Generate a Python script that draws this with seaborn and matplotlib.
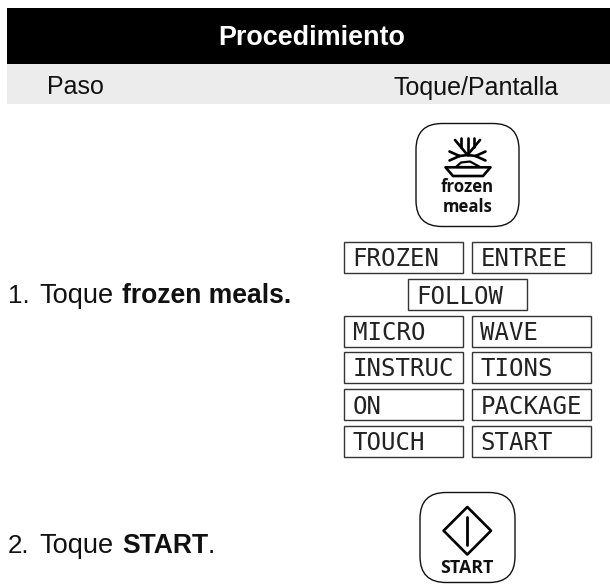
import matplotlib
matplotlib.use("Agg")
import matplotlib.pyplot as plt
from matplotlib.patches import FancyBboxPatch, Rectangle, Polygon
import seaborn as sns

sns.set_theme(style="white")
plt.rcParams['font.family'] = ['Liberation Sans', 'DejaVu Sans']

title = "Procedimiento"
col_headers = ["Paso", "Toque/Pantalla"]
step_numbers = ["1.", "2."]
step_verb = ["Toque", "Toque"]
step_keys = ["frozen meals.", "START"]
step_tail = ["", "."]
display_left = ["FROZEN", "MICRO", "INSTRUC", "ON", "TOUCH"]
display_right = ["ENTREE", "WAVE", "TIONS", "PACKAGE", "START"]
display_row_top = [242, 316, 352, 389, 426]
display_center = "FOLLOW"

W, H = 610, 584
fig = plt.figure(figsize=(W/100, H/100), dpi=100)
ax = fig.add_axes([0, 0, 1, 1])
ax.set_xlim(0, W)
ax.set_ylim(H, 0)
ax.axis("off")

def px(p):
    return p * 0.72

INK = "#111111"
# header bands
ax.add_patch(Rectangle((7, 8), 603, 55.5, fc="black", ec="none"))
ax.add_patch(Rectangle((7, 63.5), 603, 40, fc="#ececec", ec="none"))
ax.text(311.5, 45, title, color="white", fontsize=px(27), fontweight="bold", ha="center", va="baseline")
ax.text(47, 94.5, col_headers[0], color=INK, fontsize=px(25), ha="left", va="baseline")
ax.text(476, 94.5, col_headers[1], color=INK, fontsize=px(25), ha="center", va="baseline")

# steps
for num, verb, key, tail, base, tx in zip(step_numbers, step_verb, step_keys, step_tail,
                                          [303, 553], [0, 208]):
    ax.text(8, base, num, color=INK, fontsize=px(26), ha="left", va="baseline")
    ax.text(39.5, base, verb, color=INK, fontsize=px(27.3), ha="left", va="baseline")
    ax.text(122, base, key, color=INK, fontsize=px(26.5), fontweight="bold", ha="left", va="baseline")
    if tail:
        ax.text(tx, base, tail, color=INK, fontsize=px(26.5), ha="left", va="baseline")

# LCD displays
def lcd(x0, top, label):
    ax.add_patch(Rectangle((x0, top), 119, 31, fc="white", ec="#333333", lw=1.0))
    ax.text(x0 + 8.5, top + 24.5, label, color="#222222", fontsize=px(24),
            family=["DejaVu Sans Mono"], ha="left", va="baseline")

for top, l, r in zip(display_row_top, display_left, display_right):
    lcd(344, top, l)
    lcd(472, top, r)
lcd(407.5, 279, display_center)

# buttons
def button(x0, y0, x1, y1, r=26):
    ax.add_patch(FancyBboxPatch((x0, y0), x1 - x0, y1 - y0, boxstyle=f"round,pad=0,rounding_size={r}",
                                fc="white", ec="#111111", lw=1.0, mutation_aspect=1))

button(416, 123.5, 519, 226.5)
button(420, 492.5, 515, 582.5)

# snowflake icon
lw = 1.9
def seg(p, q, w=lw):
    ax.plot([p[0], q[0]], [p[1], q[1]], color="black", lw=w, solid_capstyle="round")
c = (467.5, 155)
seg(c, (467.5, 138))
for s in (-1, 1):
    seg(c, (c[0] + s*12.5, 140))
    seg((c[0] + s*6.5, 146.5), (c[0] + s*6.5, 138))
    seg((c[0] + s*8, 156), c)
    seg((c[0] + s*8, 156), (c[0] + s*18, 151.5))
    seg((c[0] + s*8, 156), (c[0] + s*18, 160.5))
# dish
ax.add_patch(Polygon([(445.5, 167.3), (490.5, 167.3), (483, 176), (453, 176)], closed=True,
                     fc="white", ec="black", lw=1.9, joinstyle="round"))
ax.add_patch(Polygon([(456, 167), (461, 162.5), (470, 161.5), (480, 167)], closed=True,
                     fc="white", ec="black", lw=1.6, joinstyle="round"))

ax.text(467.5, 191.5, "frozen", color="#111111", fontsize=px(16.8), fontweight="bold",
        family=["Open Sans", "DejaVu Sans"], ha="center", va="baseline")
ax.text(467.5, 211.5, "meals", color="#111111", fontsize=px(16.8), fontweight="bold",
        family=["Open Sans", "DejaVu Sans"], ha="center", va="baseline")

# START icon
ax.add_patch(Polygon([(467.3, 507), (491, 530.7), (467.3, 554.5), (443.6, 530.7)], closed=True,
                     fc="white", ec="black", lw=1.9, joinstyle="round"))
seg((467.3, 517), (467.3, 544.5), 2.0)
ax.text(467.3, 573, "START", color="#111111", fontsize=px(17.8), fontweight="bold",
        family=["Open Sans", "DejaVu Sans"], ha="center", va="baseline")

fig.savefig("out.png", dpi=100, facecolor="white")
